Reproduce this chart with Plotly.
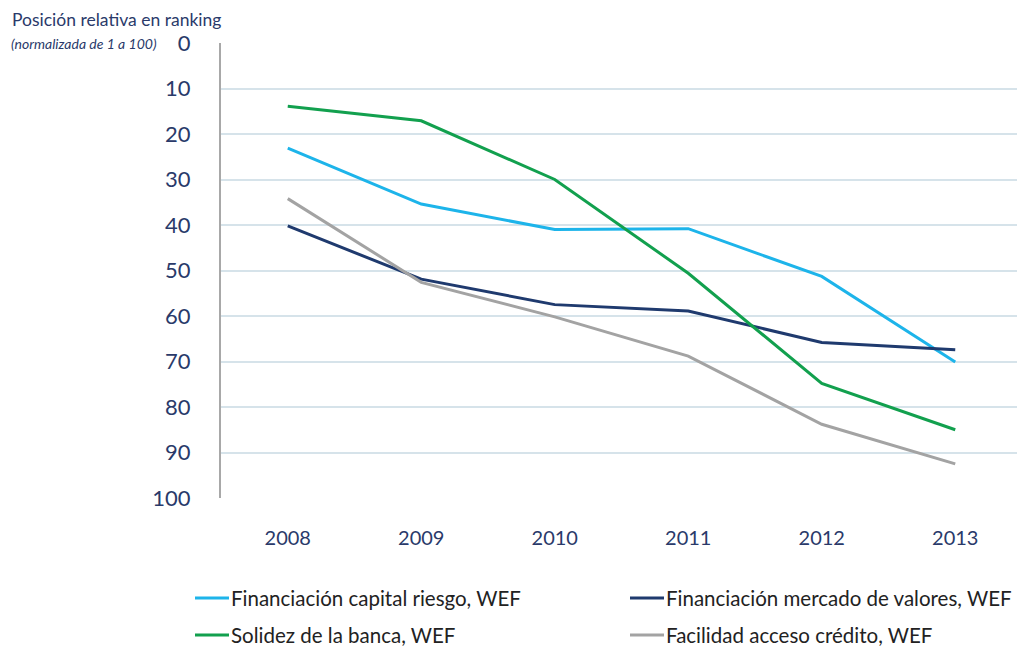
import plotly.graph_objects as go

years = ["2008", "2009", "2010", "2011", "2012", "2013"]
capital_riesgo = [23.1, 35.4, 41.0, 40.8, 51.3, 70.1]
mercado_valores = [40.2, 51.9, 57.5, 58.9, 65.8, 67.4]
solidez_banca = [13.9, 17.1, 30.0, 50.6, 74.8, 85.0]
acceso_credito = [34.2, 52.6, 60.2, 68.8, 83.8, 92.5]

names = ["Financiación capital riesgo, WEF", "Financiación mercado de valores, WEF",
         "Solidez de la banca, WEF", "Facilidad acceso crédito, WEF"]
colors = ["#1db4ea", "#1f3a6e", "#12a04e", "#a3a3a3"]
series = [capital_riesgo, mercado_valores, solidez_banca, acceso_credito]

FONT = "Lato, Open Sans, sans-serif"
TXT = "#2a3a6a"

# page has an 8px body margin; the figure is sized to fit the 1025x649 window
OFF = 8
W, H = 1025 - OFF, 649 - OFF
ml, mr, mt, mb = 221 - OFF, 3, 43 - OFF, 649 - 498
pw = W - ml - mr
ph = H - mt - mb

fig = go.Figure()
for n, c, s in zip(names, colors, series):
    fig.add_trace(go.Scatter(x=years, y=s, mode="lines", name=n,
                             line=dict(color=c, width=3), showlegend=False))

def px2x(p):
    return (p - OFF - ml) / pw

def py2y(p):
    return 1 - (p - OFF - mt) / ph

annotations = [
    dict(text="Posición relativa en ranking", x=px2x(10), y=py2y(20), xref="paper", yref="paper",
         xanchor="left", yanchor="middle", showarrow=False, font=dict(family=FONT, size=17.5, color=TXT)),
    dict(text="<i>(normalizada de 1 a 100)</i>", x=px2x(9), y=py2y(43), xref="paper", yref="paper",
         xanchor="left", yanchor="middle", showarrow=False, font=dict(family=FONT, size=14, color=TXT)),
]
shapes = []
leg_pos = [(195, 598), (630, 598), (195, 635), (630, 635)]
for (lx, ly), n, c in zip(leg_pos, names, colors):
    shapes.append(dict(type="line", xref="paper", yref="paper", x0=px2x(lx), x1=px2x(lx + 34),
                       y0=py2y(ly), y1=py2y(ly), line=dict(color=c, width=3)))
    annotations.append(dict(text=n, x=px2x(lx + 34), y=py2y(ly), xref="paper", yref="paper",
                            xanchor="left", yanchor="middle", showarrow=False,
                            font=dict(family=FONT, size=20.5, color="#222222")))

fig.update_layout(
    width=W, height=H,
    margin=dict(l=ml, r=mr, t=mt, b=mb),
    plot_bgcolor="white", paper_bgcolor="white",
    font=dict(family=FONT, color=TXT),
    annotations=annotations, shapes=shapes,
    xaxis=dict(type="category", range=[-0.5, 5.5], showgrid=False, zeroline=False,
               showline=False, ticks="", tickfont=dict(size=20, color=TXT),
               ticklabelstandoff=26),
    yaxis=dict(range=[100, 0], tickvals=list(range(0, 101, 10)), showgrid=True,
               gridcolor="#d6e3ea", gridwidth=1.5, zeroline=False, showline=True,
               linecolor="#a8a8a8", linewidth=2, ticks="", tickfont=dict(size=22, color=TXT),
               ticklabelstandoff=24),
)

fig.write_html("out.html")
